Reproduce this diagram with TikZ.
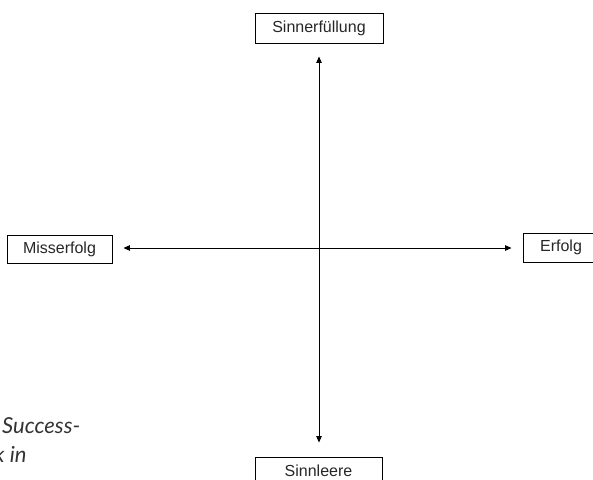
\documentclass[tikz,border=0pt]{standalone}
\usepackage{fontspec}
\setmainfont{Liberation Sans}
\newfontfamily\captionfont{Lato}
\usetikzlibrary{arrows.meta}
\tikzset{
  labelbox/.style={draw=black, line width=0.9pt, inner sep=0pt, font=\fontsize{16}{19}\selectfont, text=black!85},
  axisline/.style={line width=0.9pt, {Triangle[length=6.5pt,width=5.5pt]}-{Triangle[length=6.5pt,width=5.5pt]}},
  captiontext/.style={font=\captionfont\itshape\fontsize{22}{26}\selectfont, text=black!80, inner sep=0pt, anchor=base west}
}
\begin{document}
\begin{tikzpicture}[x=1pt,y=-1pt]
\useasboundingbox (0,0) rectangle (593,479);
\clip (0,0) rectangle (593,479);
\node[labelbox, minimum width=128pt, minimum height=30pt] (top) at (319,28) {Sinnerfüllung};
\node[labelbox, minimum width=105pt, minimum height=28pt] (left) at (59.5,249) {Misserfolg};
\node[labelbox, minimum width=76pt, minimum height=29pt] (right) at (561,247.5) {Erfolg};
\node[labelbox, minimum width=127pt, minimum height=27pt] (bottom) at (318.5,470.5) {Sinnleere};
\coordinate (vtop) at ([yshift=-13pt]top.south);
\coordinate (vbot) at ([yshift=14pt]bottom.north);
\coordinate (hleft) at ([xshift=11pt]left.east);
\coordinate (hright) at ([xshift=-11pt]right.west);
\draw[axisline] (vtop) -- (vtop |- vbot);
\draw[axisline] (hleft |- 0,248) -- (hright |- 0,248);
\node[captiontext] (cap1) at (2,433) {Success-};
\node[captiontext] (cap2) at (-6,462) {k in};
\end{tikzpicture}
\end{document}
